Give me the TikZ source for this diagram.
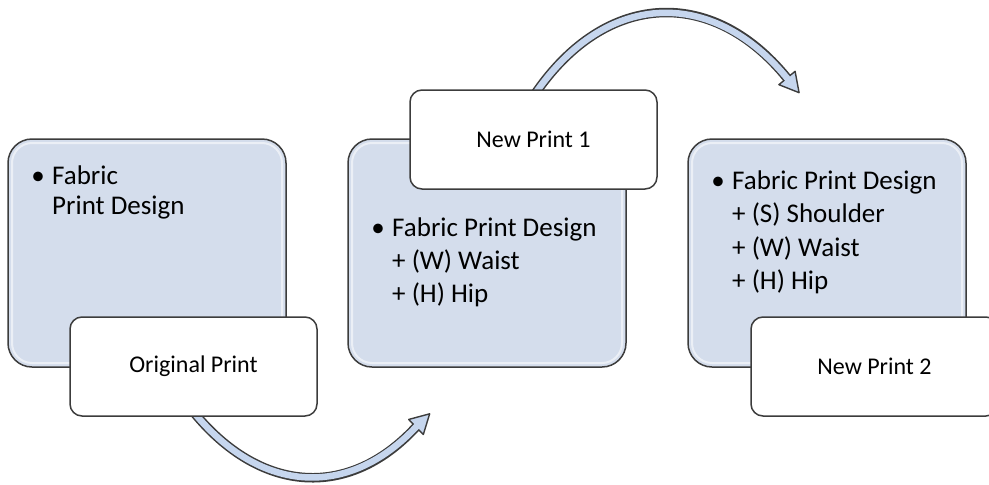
\documentclass[tikz,border=0pt]{standalone}
\usepackage{fontspec}
\setmainfont{Carlito}
\definecolor{boxblue}{RGB}{212,221,236}
\definecolor{arrowblue}{RGB}{198,214,238}
\definecolor{edge}{RGB}{60,60,60}
\begin{document}
\begin{tikzpicture}[x=1pt,y=1pt,
  bluebox/.style={draw=edge, line width=1.5pt, fill=boxblue, rounded corners=24pt,
    minimum width=278pt, minimum height=228pt, inner sep=0pt},
  whitebox/.style={draw=edge, line width=1.5pt, fill=white, rounded corners=12pt,
    minimum width=247pt, minimum height=99pt, inner sep=0pt,
    font=\fontsize{24}{29}\selectfont},
  bodytext/.style={anchor=base west, inner sep=0pt, font=\fontsize{27}{33}\selectfont},
  bullettext/.style={anchor=base, inner sep=0pt, font=\fontsize{27}{33}\selectfont},
  shine/.style={draw=white, line width=2pt, opacity=0.55, rounded corners=20pt},
  bandout/.style={draw=edge, line width=9.5pt},
  bandin/.style={draw=arrowblue, line width=6.5pt, shorten >=-2.5pt},
  headtip/.style={fill=arrowblue, draw=edge, line width=1.4pt, line join=round}
]
\useasboundingbox (0,0) rectangle (989,-485);
\clip (0,0) rectangle (989,-485);

% blue boxes
\node[bluebox] (b1) at (147,-253) {};
\node[bluebox] (b2) at (487,-253) {};
\node[bluebox] (b3) at (827,-253) {};
\draw[shine] (12,-143) rectangle (282,-363);
\draw[shine] (352,-143) rectangle (622,-363);
\draw[shine] (692,-143) rectangle (962,-363);

% texts in blue boxes
\node[bullettext] (t1b) at (38,-184) {•};
\node[bodytext] (t1a) at (52,-184) {Fabric};
\node[bodytext] (t1c) at (52,-214) {Print Design};

\node[bullettext] (t2b) at (378,-236) {•};
\node[bodytext] (t2a) at (392,-236) {Fabric Print Design};
\node[bodytext] (t2c) at (392,-269) {+ (W) Waist};
\node[bodytext] (t2d) at (392,-302) {+ (H) Hip};

\node[bullettext] (t3b) at (718,-189) {•};
\node[bodytext] (t3a) at (732,-189) {Fabric Print Design};
\node[bodytext] (t3c) at (732,-222) {+ (S) Shoulder};
\node[bodytext] (t3d) at (732,-256) {+ (W) Waist};
\node[bodytext] (t3e) at (732,-289) {+ (H) Hip};

% curved arrows
\coordinate (a1s) at (188,-405);
\coordinate (a1p) at (256.6,-494.8);
\coordinate (a1q) at (348.3,-500.7);
\coordinate (a1e) at (416,-427);

\coordinate (a2s) at (531,-100);
\coordinate (a2p) at (602.1,10.2);
\coordinate (a2q) at (711.8,14.9);
\coordinate (a2e) at (787,-78);

\draw[bandout] (a1s) .. controls (a1p) and (a1q) .. (a1e);
\begin{scope}[shift={(a1e)}, rotate=44]
  \draw[headtip] (0,-10.5) -- (19,0) -- (0,10.5) -- cycle;
\end{scope}
\draw[bandin] (a1s) .. controls (a1p) and (a1q) .. (a1e);

\draw[bandout] (a2s) .. controls (a2p) and (a2q) .. (a2e);
\begin{scope}[shift={(a2e)}, rotate=-50.5]
  \draw[headtip] (0,-10.5) -- (19,0) -- (0,10.5) -- cycle;
\end{scope}
\draw[bandin] (a2s) .. controls (a2p) and (a2q) .. (a2e);

% white label boxes
\node[whitebox] (w1) at (193.5,-366.5) {Original Print};
\node[whitebox] (w2) at (533.5,-139.5) {New Print 1};
\node[whitebox] (w3) at (874.5,-366.5) {New Print 2};
\end{tikzpicture}
\end{document}
